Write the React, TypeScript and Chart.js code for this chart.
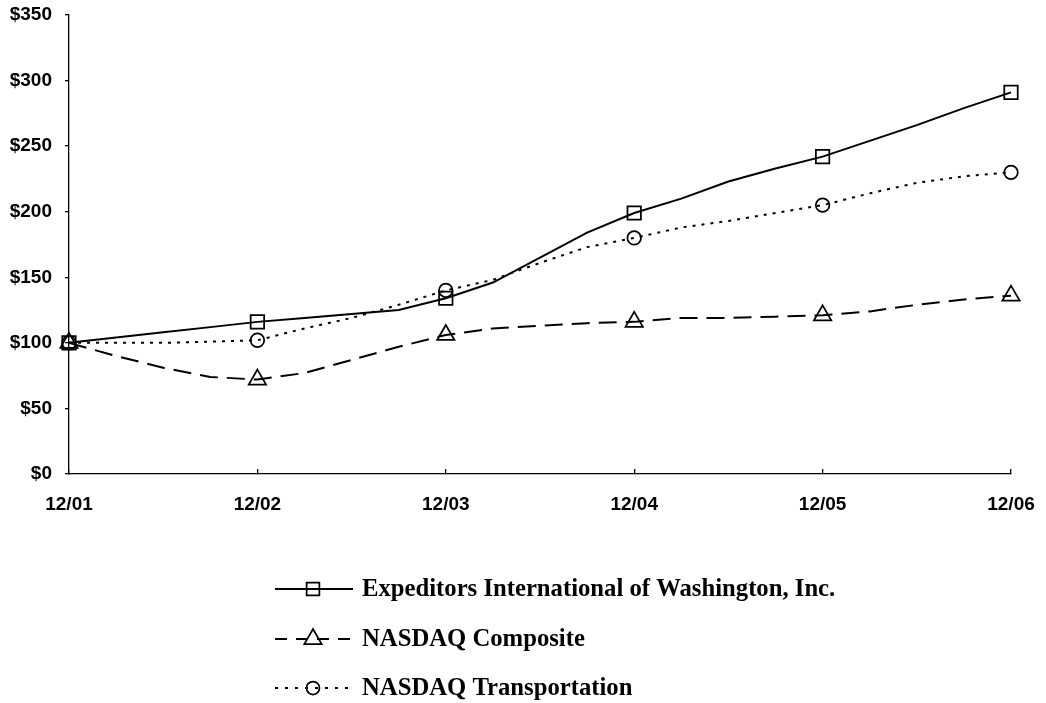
import React, { useEffect, useRef } from 'react';
import { Chart, registerables } from 'chart.js';
import { drawPoint } from 'chart.js/helpers';

Chart.register(...registerables);

// Quarterly observation dates; markers/ticks only at year ends
const quarterLabels = [
  '12/01', '3/02', '6/02', '9/02', '12/02', '3/03', '6/03', '9/03', '12/03',
  '3/04', '6/04', '9/04', '12/04', '3/05', '6/05', '9/05', '12/05',
  '3/06', '6/06', '9/06', '12/06',
];
const yearLabels = ['12/01', '12/02', '12/03', '12/04', '12/05', '12/06'];

const expeditors = [100, 104, 108, 112, 116, 119, 122, 125, 134, 146, 165, 184, 199, 210, 223, 233, 242, 254, 266, 279, 291];
const nasdaqComposite = [100, 90, 81, 74, 72, 77, 87, 97, 106, 111, 113, 115, 116, 119, 119, 120, 121, 124, 129, 133, 136];
const nasdaqTransportation = [100, 100, 100, 101, 102, 111, 119, 129, 140, 148, 161, 173, 180, 188, 193, 199, 205, 214, 222, 227, 230];

const seriesNames = [
  'Expeditors International of Washington, Inc.',
  'NASDAQ Composite',
  'NASDAQ Transportation',
];

const yMax = 350;
const yStep = 50;

const AXIS_FONT = { family: '"Liberation Sans", Arial, sans-serif', size: 19, weight: 'bold' as const };

const legendPlugin = {
  id: 'customLegend',
  afterDraw(chart: any) {
    const ctx = chart.ctx as CanvasRenderingContext2D;
    const rows = [589, 639, 688];
    chart.data.datasets.forEach((ds: any, i: number) => {
      const y = rows[i];
      ctx.save();
      ctx.strokeStyle = '#000';
      ctx.lineWidth = 2;
      ctx.setLineDash(ds.legendDash || []);
      ctx.beginPath();
      ctx.moveTo(275, y);
      ctx.lineTo(353, y);
      ctx.stroke();
      ctx.setLineDash([]);
      ctx.lineWidth = 1.75;
      ctx.fillStyle = 'rgba(0,0,0,0)';
      drawPoint(ctx, { pointStyle: ds.pointStyle, radius: ds.legendRadius, borderWidth: 1.75, rotation: 0 } as any, 313, y);
      ctx.fillStyle = '#000';
      ctx.font = 'bold 24.7px "Liberation Serif", "Times New Roman", serif';
      ctx.textBaseline = 'alphabetic';
      ctx.textAlign = 'left';
      ctx.fillText(ds.label, 362, y + 7);
      ctx.restore();
    });
  },
};

export default function App() {
  const canvasRef = useRef<HTMLCanvasElement | null>(null);

  useEffect(() => {
    if (!canvasRef.current) return;
    const markerAtYearEnd = (r: number) => (c: any) =>
      yearLabels.includes(quarterLabels[c.dataIndex]) ? r : 0;
    const toPoints = (arr: number[]) => arr.map((v, i) => ({ x: i, y: v }));

    const chart = new Chart(canvasRef.current, {
      type: 'line',
      data: {
        datasets: [
          {
            label: seriesNames[0],
            data: toPoints(expeditors),
            borderColor: '#000',
            borderWidth: 2,
            borderDash: [],
            pointStyle: 'rect',
            pointRadius: markerAtYearEnd(9.5),
            pointBorderColor: '#000',
            pointBackgroundColor: 'rgba(0,0,0,0)',
            pointBorderWidth: 1.75,
            tension: 0,
            clip: false,
            legendRadius: 9,
            legendDash: [],
          } as any,
          {
            label: seriesNames[1],
            data: toPoints(nasdaqComposite),
            borderColor: '#000',
            borderWidth: 2,
            borderDash: [18, 9],
            pointStyle: 'triangle',
            pointRadius: markerAtYearEnd(10),
            pointBorderColor: '#000',
            pointBackgroundColor: 'rgba(0,0,0,0)',
            pointBorderWidth: 1.75,
            tension: 0,
            clip: false,
            legendRadius: 10,
            legendDash: [12, 9],
          } as any,
          {
            label: seriesNames[2],
            data: toPoints(nasdaqTransportation),
            borderColor: '#000',
            borderWidth: 2,
            borderDash: [3, 6],
            pointStyle: 'circle',
            pointRadius: markerAtYearEnd(6.8),
            pointBorderColor: '#000',
            pointBackgroundColor: 'rgba(0,0,0,0)',
            pointBorderWidth: 1.75,
            tension: 0,
            clip: false,
            legendRadius: 6.5,
            legendDash: [3, 7],
          } as any,
        ],
      },
      options: {
        animation: false,
        responsive: false,
        devicePixelRatio: 1,
        layout: { padding: { left: 0, right: 35, top: 15, bottom: 0 } },
        plugins: { legend: { display: false }, tooltip: { enabled: false } },
        scales: {
          x: {
            type: 'linear',
            min: 0,
            max: quarterLabels.length - 1,
            ticks: {
              stepSize: 4,
              autoSkip: false,
              maxRotation: 0,
              padding: 24,
              color: '#000',
              font: AXIS_FONT,
              callback: (v: any) => quarterLabels[v] ?? '',
            },
            grid: { drawOnChartArea: false, drawTicks: true, tickLength: -5, color: '#000', lineWidth: 1.3 },
            border: { display: true, color: '#000', width: 1.3 },
            afterFit: (s: any) => {
              s.height = 229;
              s.paddingLeft = 0;
              s.paddingRight = 0;
            },
          },
          y: {
            min: 0,
            max: yMax,
            ticks: {
              stepSize: yStep,
              padding: 13,
              color: '#000',
              font: AXIS_FONT,
              callback: (v: any) => '$' + v,
            },
            grid: { drawOnChartArea: false, drawTicks: true, tickLength: 4, color: '#000', lineWidth: 1.3 },
            border: { display: true, color: '#000', width: 1.3 },
            afterFit: (s: any) => {
              s.width = 69;
              s.paddingTop = 0;
              s.paddingBottom = 0;
            },
          },
        },
      } as any,
      plugins: [legendPlugin],
    });
    return () => chart.destroy();
  }, []);

  return (
    <div style={{ position: 'absolute', left: 0, top: 0, width: 1046, height: 703, background: '#fff' }}>
      <canvas ref={canvasRef} width={1046} height={703} style={{ display: 'block' }} />
    </div>
  );
}
